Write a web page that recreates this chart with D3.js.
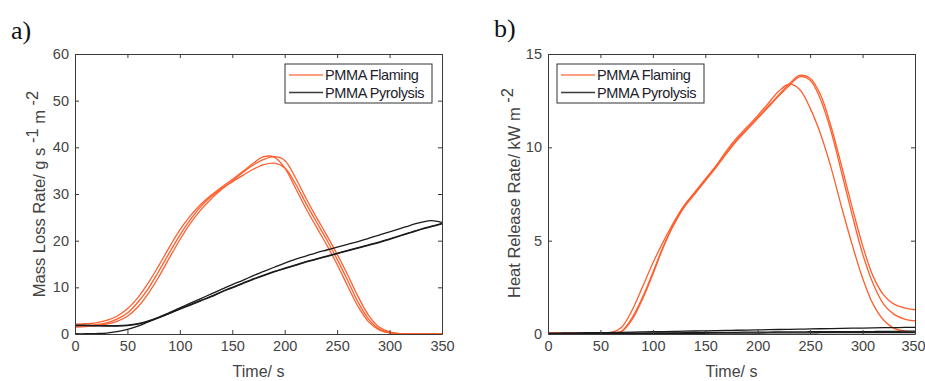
<!DOCTYPE html>
<html>
<head>
<meta charset="utf-8">
<script src="https://cdn.jsdelivr.net/npm/d3@7"></script>
<style>
  body { margin: 0; background: #fff; }
  svg { display: block; }
  text { font-family: Arial, "Liberation Sans", Helvetica, sans-serif; }
</style>
</head>
<body>
<svg id="chart" width="925" height="381"></svg>
<script>
// Sampling times (s), shared by every curve
const time = [0,10,20,30,40,50,60,70,80,90,100,110,120,130,140,150,160,170,180,190,200,210,220,230,240,250,260,270,280,290,300,310,320,330,340,350];
const timeTicks = [0,50,100,150,200,250,300,350];
const mlrTicks = [0,10,20,30,40,50,60];
const hrrTicks = [0,5,10,15];
const seriesNames = ["PMMA Flaming", "PMMA Pyrolysis"];

// (a) Mass loss rate, g s^-1 m^-2 — flaming runs
const mlrFlaming1 = [2.1,2.2,2.4,2.9,3.8,5.4,7.8,11.0,14.7,18.6,22.3,25.3,27.8,29.8,31.5,33.1,34.8,36.6,38.0,37.9,35.6,31.4,27.0,23.0,19.1,14.9,10.3,5.9,2.6,0.9,0.25,0.04,0,0,0,0];
const mlrFlaming2 = [1.5,1.6,1.8,2.1,2.7,3.8,5.8,8.7,12.3,16.3,20.2,23.7,26.6,29.0,31.0,32.8,34.6,36.2,37.4,38.0,37.2,33.6,29.2,25.1,21.2,17.1,12.7,8.0,4.0,1.5,0.45,0.08,0,0,0,0];
const mlrFlaming3 = [1.7,1.8,2.0,2.4,3.2,4.5,6.8,9.8,13.5,17.4,21.2,24.5,27.3,29.5,31.2,32.6,34.0,35.3,36.3,36.6,35.6,32.3,28.1,24.1,20.2,16.0,11.5,6.8,3.2,1.1,0.3,0.05,0,0,0,0];
// (a) Mass loss rate — pyrolysis runs
const mlrPyrolysis1 = [1.9,1.9,1.8,1.8,1.8,1.9,2.2,2.8,3.6,4.6,5.6,6.6,7.6,8.6,9.6,10.6,11.5,12.5,13.4,14.3,15.2,16.0,16.7,17.4,18.0,18.6,19.2,19.8,20.5,21.2,21.9,22.6,23.3,23.9,24.3,23.9];
const mlrPyrolysis2 = [0.05,0.05,0.1,0.2,0.5,1.0,1.7,2.6,3.5,4.4,5.3,6.2,7.1,8.0,9.0,9.9,10.8,11.7,12.5,13.3,14.0,14.7,15.4,16.0,16.6,17.2,17.8,18.4,19.0,19.6,20.3,21.0,21.7,22.4,23.0,23.6];
const mlrPyrolysis3 = [1.8,1.8,1.75,1.7,1.7,1.8,2.1,2.7,3.5,4.4,5.4,6.3,7.2,8.1,9.1,10.0,10.9,11.8,12.6,13.4,14.1,14.8,15.5,16.1,16.7,17.3,17.9,18.5,19.1,19.7,20.4,21.1,21.8,22.5,23.1,23.7];

// (b) Heat release rate, kW m^-2 — flaming runs
const hrrFlaming1 = [0.05,0.05,0.05,0.05,0.05,0.05,0.07,0.35,1.25,2.5,3.8,4.95,6.0,6.9,7.6,8.3,9.0,9.8,10.5,11.1,11.7,12.35,13.0,13.38,13.1,12.1,10.7,8.9,6.8,4.8,3.0,1.6,0.75,0.3,0.15,0.1];
const hrrFlaming2 = [0.04,0.04,0.04,0.04,0.04,0.04,0.05,0.15,0.85,1.95,3.3,4.7,5.9,6.85,7.55,8.25,8.95,9.7,10.4,11.0,11.6,12.2,12.8,13.4,13.85,13.7,12.8,11.1,9.0,6.8,4.75,3.1,2.1,1.6,1.4,1.3];
const hrrFlaming3 = [0.04,0.04,0.04,0.04,0.04,0.04,0.04,0.12,0.75,1.85,3.2,4.65,5.85,6.8,7.5,8.2,8.9,9.65,10.35,10.95,11.55,12.15,12.75,13.3,13.78,13.6,12.55,10.85,8.65,6.4,4.3,2.7,1.6,1.05,0.8,0.7];
// (b) Heat release rate — pyrolysis runs
const hrrPyrolysis1 = [0.05,0.05,0.06,0.06,0.07,0.07,0.08,0.09,0.1,0.11,0.12,0.13,0.14,0.15,0.16,0.17,0.18,0.19,0.2,0.21,0.22,0.23,0.24,0.25,0.26,0.27,0.28,0.29,0.3,0.31,0.32,0.33,0.34,0.34,0.35,0.35];
const hrrPyrolysis2 = [0.02,0.02,0.02,0.03,0.03,0.03,0.04,0.04,0.05,0.05,0.05,0.06,0.06,0.07,0.07,0.08,0.08,0.09,0.09,0.1,0.1,0.1,0.11,0.11,0.11,0.12,0.12,0.12,0.12,0.13,0.13,0.13,0.14,0.14,0.15,0.15];
const hrrPyrolysis3 = [0.01,0.01,0.01,0.01,0.02,0.02,0.02,0.02,0.03,0.03,0.03,0.03,0.04,0.04,0.04,0.04,0.05,0.05,0.05,0.05,0.05,0.06,0.06,0.06,0.06,0.06,0.07,0.07,0.07,0.07,0.07,0.08,0.08,0.08,0.08,0.08];

const FLAME = "#ff5f2e";
const PYRO = "#1b1b1b";
const AXIS = "#3a3a3a";
const TICKTEXT = "#444";

const svg = d3.select("#chart");

const panels = [
  {
    tag: "a)", tagX: 11, tagY: 39,
    left: 75, right: 442, top: 54, bottom: 334,
    ymax: 60, yTicks: mlrTicks,
    flaming: [mlrFlaming1, mlrFlaming2, mlrFlaming3],
    pyrolysis: [mlrPyrolysis1, mlrPyrolysis2, mlrPyrolysis3],
    ylabel: [["Mass Loss Rate/ g s ", 0], ["-1", -1], [" m ", 1], ["-2", -1]],
    ylabelX: 45, ylabelY: 194,
    legend: { x: 285, y: 64, w: 147, h: 39 }
  },
  {
    tag: "b)", tagX: 494, tagY: 37,
    left: 548, right: 915, top: 54, bottom: 334,
    ymax: 15, yTicks: hrrTicks,
    flaming: [hrrFlaming1, hrrFlaming2, hrrFlaming3],
    pyrolysis: [hrrPyrolysis1, hrrPyrolysis2, hrrPyrolysis3],
    ylabel: [["Heat Release Rate/ kW m ", 0], ["-2", -1]],
    ylabelX: 520, ylabelY: 193,
    legend: { x: 557, y: 64, w: 147, h: 39 }
  }
];

panels.forEach((p, i) => {
  const x = d3.scaleLinear().domain([0, 350]).range([p.left, p.right]);
  const y = d3.scaleLinear().domain([0, p.ymax]).range([p.bottom, p.top]);
  const g = svg.append("g");

  // Panel tag
  g.append("text")
    .attr("x", p.tagX).attr("y", p.tagY)
    .style("font-family", "'Liberation Serif', 'Times New Roman', serif")
    .style("font-size", "26px").attr("fill", "#111")
    .text(p.tag);

  // Clip curves to the plot box
  const clipId = "clip" + i;
  svg.append("defs").append("clipPath").attr("id", clipId)
    .append("rect").attr("x", p.left).attr("y", p.top)
    .attr("width", p.right - p.left).attr("height", p.bottom - p.top);

  const line = d3.line()
    .x((d, k) => x(time[k]))
    .y(d => y(d))
    .curve(d3.curveCatmullRom.alpha(0.5));

  const curves = g.append("g").attr("clip-path", `url(#${clipId})`);
  p.flaming.forEach(s => curves.append("path").datum(s)
    .attr("d", line).attr("fill", "none")
    .attr("stroke", FLAME).attr("stroke-width", 1.3));
  p.pyrolysis.forEach(s => curves.append("path").datum(s)
    .attr("d", line).attr("fill", "none")
    .attr("stroke", PYRO).attr("stroke-width", 1.3));

  // Axes: labelled bottom/left, mirrored ticks top/right, inward ticks
  const styleAxis = sel => {
    sel.selectAll(".domain").attr("stroke", AXIS).attr("stroke-width", 1);
    sel.selectAll(".tick line").attr("stroke", AXIS);
    sel.selectAll(".tick text").attr("fill", TICKTEXT)
      .style("font-size", "14.5px").style("font-family", "Arial, 'Liberation Sans', sans-serif");
  };
  const xAxis = g.append("g").attr("transform", `translate(0,${p.bottom})`)
    .call(d3.axisBottom(x).tickValues(timeTicks).tickFormat(d3.format("d"))
      .tickSizeInner(-4).tickSizeOuter(0).tickPadding(7))
    .call(styleAxis);
  // keep the last tick label inside the page edge
  xAxis.selectAll(".tick text").filter(d => d === 350 && p.right > 900).attr("dx", "-2");
  g.append("g").attr("transform", `translate(0,${p.top})`)
    .call(d3.axisTop(x).tickValues(timeTicks).tickFormat("")
      .tickSizeInner(-4).tickSizeOuter(0))
    .call(styleAxis);
  g.append("g").attr("transform", `translate(${p.left},0)`)
    .call(d3.axisLeft(y).tickValues(p.yTicks).tickFormat(d3.format("d"))
      .tickSizeInner(-4).tickSizeOuter(0).tickPadding(6))
    .call(styleAxis);
  g.append("g").attr("transform", `translate(${p.right},0)`)
    .call(d3.axisRight(y).tickValues(p.yTicks).tickFormat("")
      .tickSizeInner(-4).tickSizeOuter(0))
    .call(styleAxis);

  // Axis titles
  g.append("text")
    .attr("x", (p.left + p.right) / 2).attr("y", 377)
    .attr("text-anchor", "middle").attr("fill", TICKTEXT)
    .style("font-size", "16px")
    .text("Time/ s");

  const yl = g.append("text")
    .attr("transform", `translate(${p.ylabelX},${p.ylabelY}) rotate(-90)`)
    .attr("text-anchor", "middle").attr("fill", TICKTEXT)
    .style("font-size", "16.5px");
  let shift = 0;
  p.ylabel.forEach(([t, lvl]) => {
    const target = lvl < 0 ? -7 : 0;
    yl.append("tspan").attr("dy", target - shift).text(t);
    shift = target;
  });

  // Legend
  const L = p.legend;
  const lg = g.append("g");
  lg.append("rect").attr("x", L.x).attr("y", L.y).attr("width", L.w).attr("height", L.h)
    .attr("fill", "#fff").attr("stroke", "#333").attr("stroke-width", 1);
  [FLAME, PYRO].forEach((c, k) => {
    const yy = L.y + 11 + k * 17.5;
    lg.append("line").attr("x1", L.x + 4).attr("x2", L.x + 38)
      .attr("y1", yy).attr("y2", yy)
      .attr("stroke", c).attr("stroke-width", 1.5).attr("opacity", k === 0 ? 0.8 : 0.85);
    lg.append("text").attr("x", L.x + 40).attr("y", yy + 5)
      .attr("fill", "#1d1d2b").style("font-size", "14.5px")
      .style("letter-spacing", "-0.4px")
      .text(seriesNames[k]);
  });
});
</script>
</body>
</html>
